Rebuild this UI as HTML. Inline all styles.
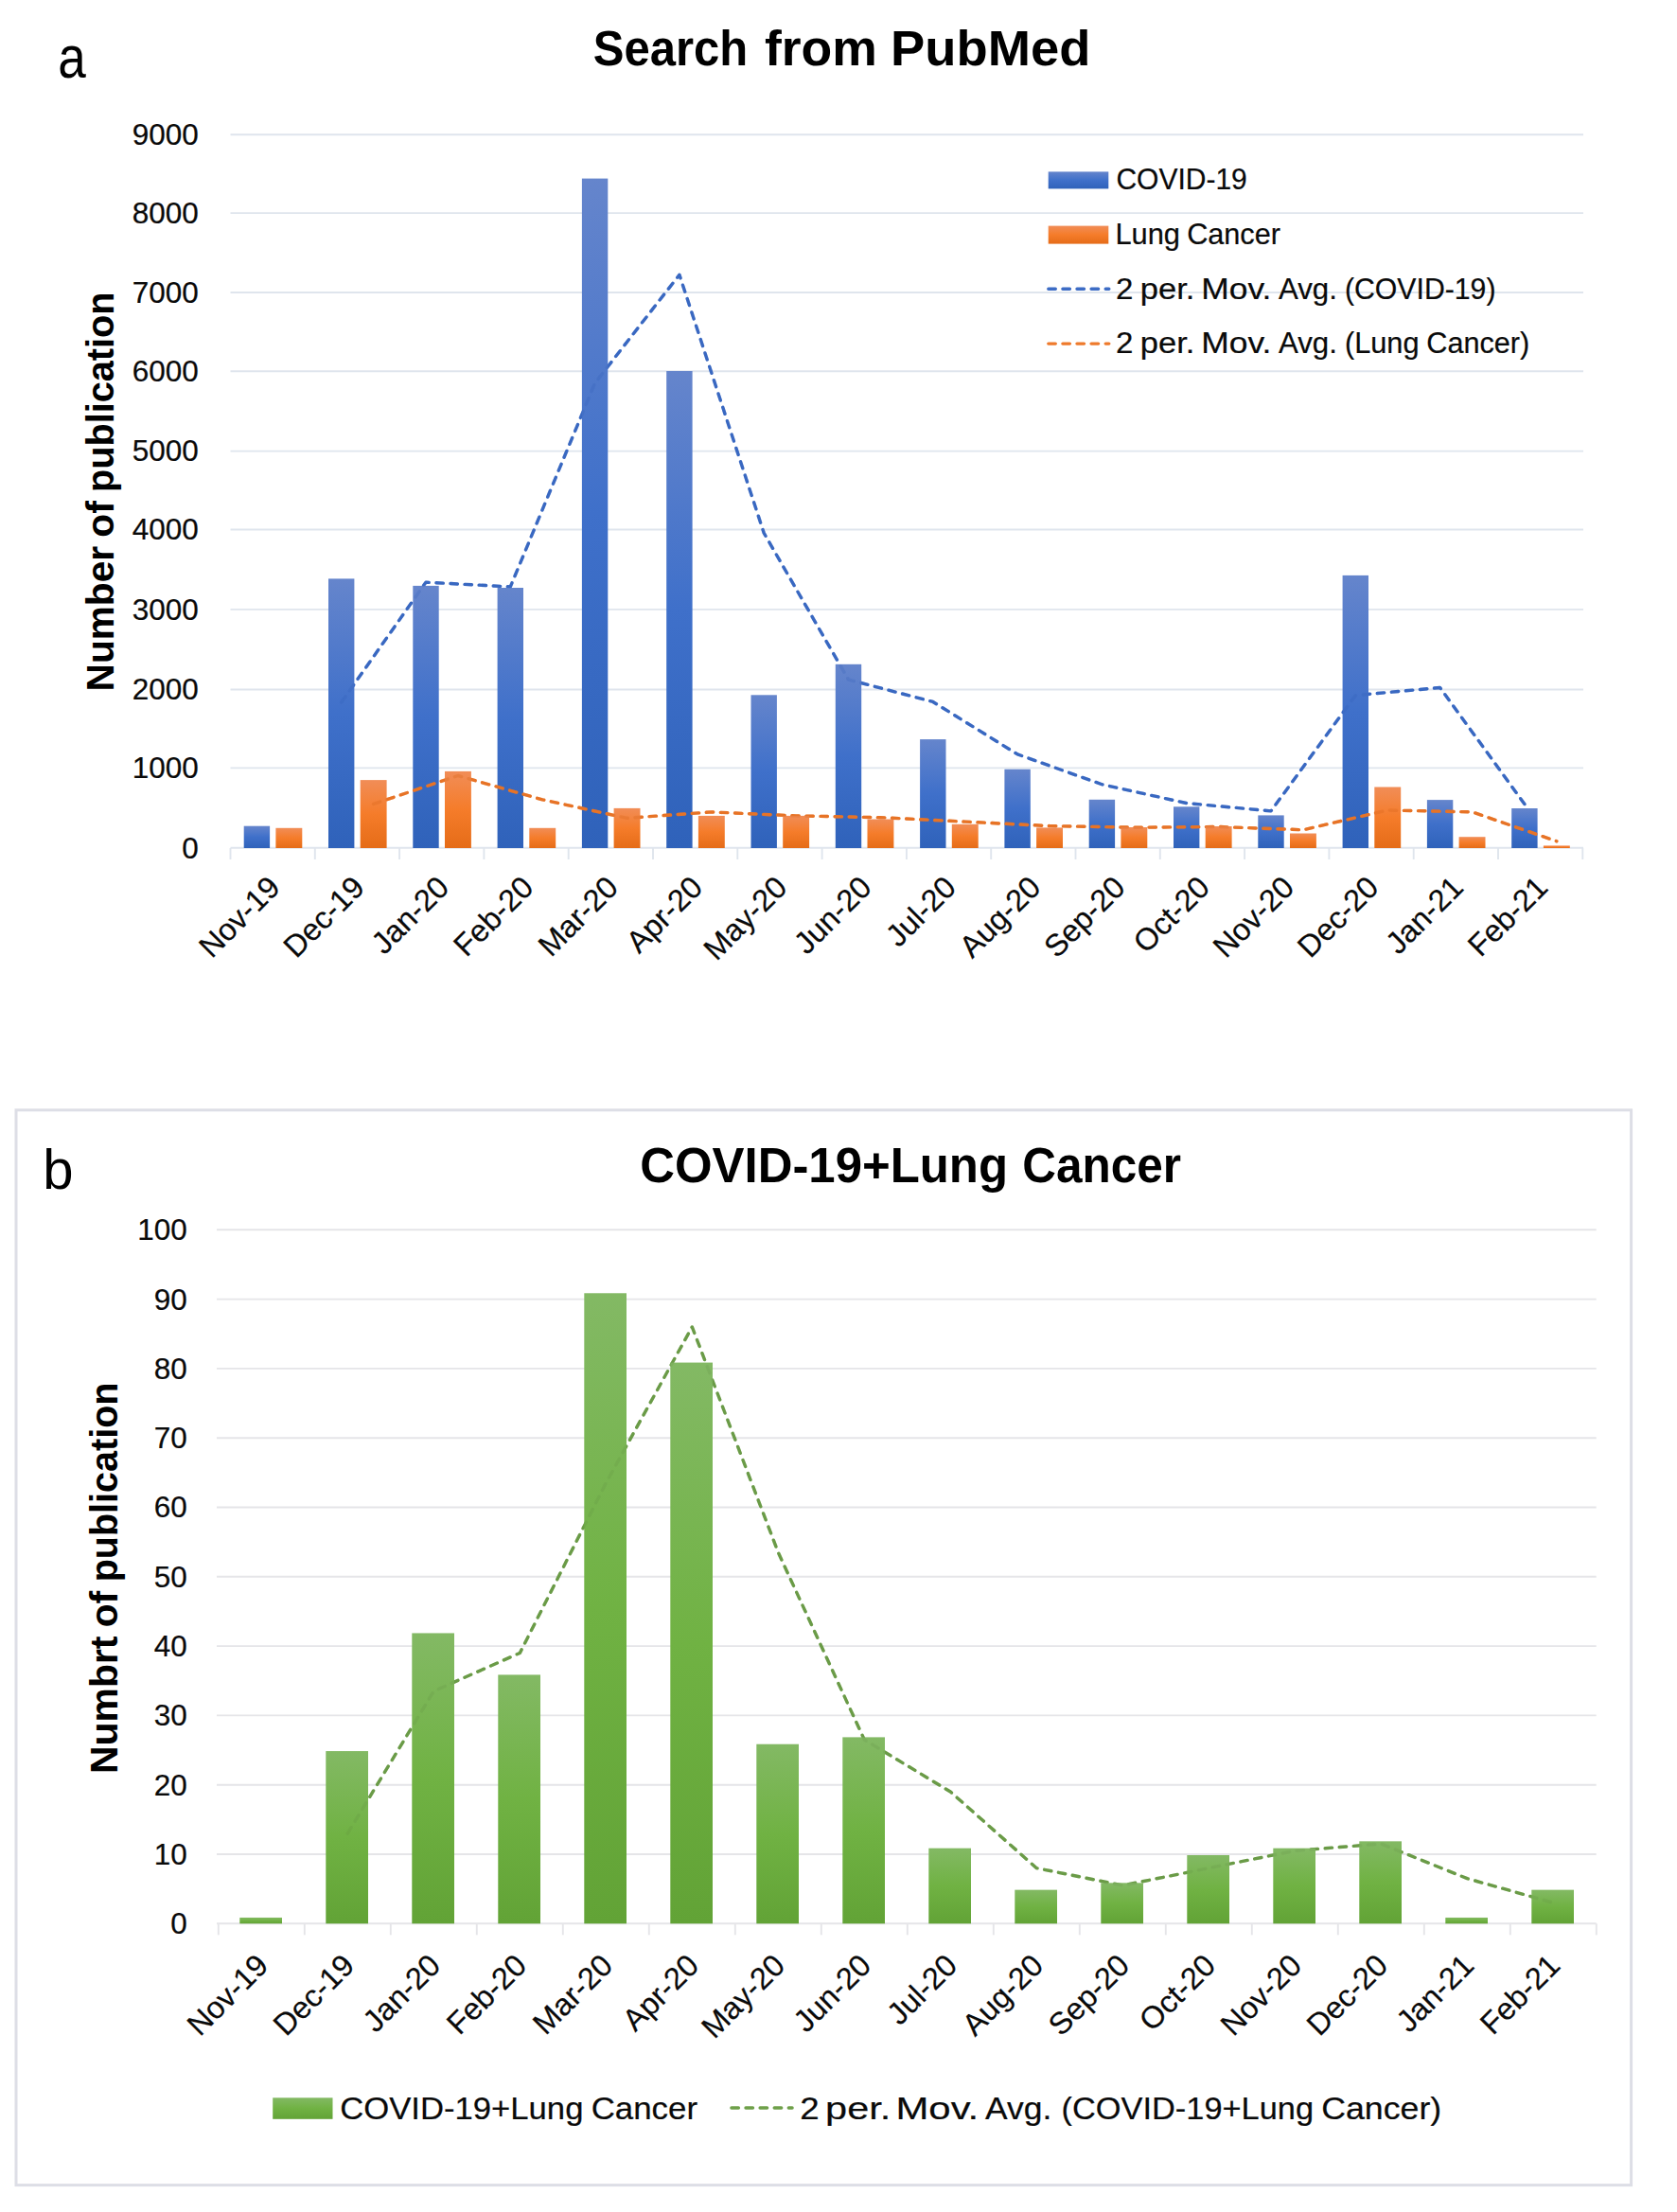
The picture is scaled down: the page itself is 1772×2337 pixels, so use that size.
<!DOCTYPE html>
<html><head><meta charset="utf-8"><title>Search from PubMed</title>
<style>html,body{margin:0;padding:0;background:#fff;}svg{display:block;}text{font-family:"Liberation Sans",sans-serif;fill:#0a0a0a;stroke:#0a0a0a;stroke-width:0.22px;}text.b{fill:#000;stroke:none;}</style>
</head><body>
<svg width="1772" height="2337" viewBox="0 0 1772 2337">
<defs>
<linearGradient id="gb" x1="0" y1="0" x2="0" y2="1"><stop offset="0" stop-color="#6585CC"/><stop offset="0.5" stop-color="#3F70CA"/><stop offset="1" stop-color="#2F62BA"/></linearGradient>
<linearGradient id="go" x1="0" y1="0" x2="0" y2="1"><stop offset="0" stop-color="#F18D57"/><stop offset="0.5" stop-color="#F57C2A"/><stop offset="1" stop-color="#E56C18"/></linearGradient>
<linearGradient id="gg" x1="0" y1="0" x2="0" y2="1"><stop offset="0" stop-color="#83B964"/><stop offset="0.5" stop-color="#70B243"/><stop offset="1" stop-color="#62A336"/></linearGradient>
</defs>
<rect x="0" y="0" width="1772" height="2337" fill="#ffffff"/>
<line x1="243.5" y1="895.80" x2="1673.0" y2="895.80" stroke="#DFE5ED" stroke-width="1.9"/>
<text x="209.8" y="906.60" font-size="31.5" text-anchor="end">0</text>
<line x1="243.5" y1="811.40" x2="1673.0" y2="811.40" stroke="#DFE5ED" stroke-width="1.9"/>
<text x="209.8" y="822.20" font-size="31.5" text-anchor="end">1000</text>
<line x1="243.5" y1="728.50" x2="1673.0" y2="728.50" stroke="#DFE5ED" stroke-width="1.9"/>
<text x="209.8" y="739.30" font-size="31.5" text-anchor="end">2000</text>
<line x1="243.5" y1="643.90" x2="1673.0" y2="643.90" stroke="#DFE5ED" stroke-width="1.9"/>
<text x="209.8" y="654.70" font-size="31.5" text-anchor="end">3000</text>
<line x1="243.5" y1="559.50" x2="1673.0" y2="559.50" stroke="#DFE5ED" stroke-width="1.9"/>
<text x="209.8" y="570.30" font-size="31.5" text-anchor="end">4000</text>
<line x1="243.5" y1="476.60" x2="1673.0" y2="476.60" stroke="#DFE5ED" stroke-width="1.9"/>
<text x="209.8" y="487.40" font-size="31.5" text-anchor="end">5000</text>
<line x1="243.5" y1="392.20" x2="1673.0" y2="392.20" stroke="#DFE5ED" stroke-width="1.9"/>
<text x="209.8" y="403.00" font-size="31.5" text-anchor="end">6000</text>
<line x1="243.5" y1="309.00" x2="1673.0" y2="309.00" stroke="#DFE5ED" stroke-width="1.9"/>
<text x="209.8" y="319.80" font-size="31.5" text-anchor="end">7000</text>
<line x1="243.5" y1="225.10" x2="1673.0" y2="225.10" stroke="#DFE5ED" stroke-width="1.9"/>
<text x="209.8" y="235.90" font-size="31.5" text-anchor="end">8000</text>
<line x1="243.5" y1="142.20" x2="1673.0" y2="142.20" stroke="#DFE5ED" stroke-width="1.9"/>
<text x="209.8" y="153.00" font-size="31.5" text-anchor="end">9000</text>
<line x1="243.50" y1="896.0" x2="243.50" y2="908.0" stroke="#DFE5ED" stroke-width="1.9"/>
<line x1="332.80" y1="896.0" x2="332.80" y2="908.0" stroke="#DFE5ED" stroke-width="1.9"/>
<line x1="422.10" y1="896.0" x2="422.10" y2="908.0" stroke="#DFE5ED" stroke-width="1.9"/>
<line x1="511.40" y1="896.0" x2="511.40" y2="908.0" stroke="#DFE5ED" stroke-width="1.9"/>
<line x1="600.70" y1="896.0" x2="600.70" y2="908.0" stroke="#DFE5ED" stroke-width="1.9"/>
<line x1="690.00" y1="896.0" x2="690.00" y2="908.0" stroke="#DFE5ED" stroke-width="1.9"/>
<line x1="779.30" y1="896.0" x2="779.30" y2="908.0" stroke="#DFE5ED" stroke-width="1.9"/>
<line x1="868.60" y1="896.0" x2="868.60" y2="908.0" stroke="#DFE5ED" stroke-width="1.9"/>
<line x1="957.90" y1="896.0" x2="957.90" y2="908.0" stroke="#DFE5ED" stroke-width="1.9"/>
<line x1="1047.20" y1="896.0" x2="1047.20" y2="908.0" stroke="#DFE5ED" stroke-width="1.9"/>
<line x1="1136.50" y1="896.0" x2="1136.50" y2="908.0" stroke="#DFE5ED" stroke-width="1.9"/>
<line x1="1225.80" y1="896.0" x2="1225.80" y2="908.0" stroke="#DFE5ED" stroke-width="1.9"/>
<line x1="1315.10" y1="896.0" x2="1315.10" y2="908.0" stroke="#DFE5ED" stroke-width="1.9"/>
<line x1="1404.40" y1="896.0" x2="1404.40" y2="908.0" stroke="#DFE5ED" stroke-width="1.9"/>
<line x1="1493.70" y1="896.0" x2="1493.70" y2="908.0" stroke="#DFE5ED" stroke-width="1.9"/>
<line x1="1583.00" y1="896.0" x2="1583.00" y2="908.0" stroke="#DFE5ED" stroke-width="1.9"/>
<line x1="1672.30" y1="896.0" x2="1672.30" y2="908.0" stroke="#DFE5ED" stroke-width="1.9"/>
<polyline points="360.70,742.05 450.00,615.15 539.30,619.95 628.60,404.80 717.90,290.30 807.20,563.15 896.50,718.05 985.80,741.45 1075.10,796.90 1164.40,828.75 1253.70,848.55 1343.00,856.85 1432.30,734.65 1521.60,726.50 1610.90,849.55" fill="none" stroke="#3D6CC5" stroke-width="3.4" stroke-dasharray="7.4 7.7" stroke-linecap="round" stroke-linejoin="round"/>
<rect x="257.70" y="872.70" width="27.4" height="23.30" fill="url(#gb)"/>
<rect x="347.00" y="611.40" width="27.4" height="284.60" fill="url(#gb)"/>
<rect x="436.30" y="618.90" width="27.4" height="277.10" fill="url(#gb)"/>
<rect x="525.60" y="621.00" width="27.4" height="275.00" fill="url(#gb)"/>
<rect x="614.90" y="188.60" width="27.4" height="707.40" fill="url(#gb)"/>
<rect x="704.20" y="392.00" width="27.4" height="504.00" fill="url(#gb)"/>
<rect x="793.50" y="734.30" width="27.4" height="161.70" fill="url(#gb)"/>
<rect x="882.80" y="701.80" width="27.4" height="194.20" fill="url(#gb)"/>
<rect x="972.10" y="781.10" width="27.4" height="114.90" fill="url(#gb)"/>
<rect x="1061.40" y="812.70" width="27.4" height="83.30" fill="url(#gb)"/>
<rect x="1150.70" y="844.80" width="27.4" height="51.20" fill="url(#gb)"/>
<rect x="1240.00" y="852.30" width="27.4" height="43.70" fill="url(#gb)"/>
<rect x="1329.30" y="861.40" width="27.4" height="34.60" fill="url(#gb)"/>
<rect x="1418.60" y="607.90" width="27.4" height="288.10" fill="url(#gb)"/>
<rect x="1507.90" y="845.10" width="27.4" height="50.90" fill="url(#gb)"/>
<rect x="1597.20" y="854.00" width="27.4" height="42.00" fill="url(#gb)"/>
<polyline points="360.70,742.05 450.00,615.15 539.30,619.95 628.60,404.80 717.90,290.30 807.20,563.15 896.50,718.05 985.80,741.45 1075.10,796.90 1164.40,828.75 1253.70,848.55 1343.00,856.85 1432.30,734.65 1521.60,726.50 1610.90,849.55" fill="none" stroke="#2F5DB5" stroke-width="3.4" stroke-dasharray="7.4 7.7" stroke-linecap="round" stroke-linejoin="round" opacity="0.22"/>
<polyline points="394.65,849.45 483.95,819.50 573.25,844.85 662.55,864.35 751.85,857.90 841.15,861.90 930.45,863.70 1019.75,868.15 1109.05,872.60 1198.35,874.20 1287.65,873.50 1376.95,876.75 1466.25,856.00 1555.55,857.85 1644.85,888.80" fill="none" stroke="#EE7A2C" stroke-width="3.4" stroke-dasharray="7.4 7.7" stroke-linecap="round" stroke-linejoin="round"/>
<rect x="291.40" y="874.80" width="27.9" height="21.20" fill="url(#go)"/>
<rect x="380.70" y="824.10" width="27.9" height="71.90" fill="url(#go)"/>
<rect x="470.00" y="814.90" width="27.9" height="81.10" fill="url(#go)"/>
<rect x="559.30" y="874.80" width="27.9" height="21.20" fill="url(#go)"/>
<rect x="648.60" y="853.90" width="27.9" height="42.10" fill="url(#go)"/>
<rect x="737.90" y="861.90" width="27.9" height="34.10" fill="url(#go)"/>
<rect x="827.20" y="861.90" width="27.9" height="34.10" fill="url(#go)"/>
<rect x="916.50" y="865.50" width="27.9" height="30.50" fill="url(#go)"/>
<rect x="1005.80" y="870.80" width="27.9" height="25.20" fill="url(#go)"/>
<rect x="1095.10" y="874.40" width="27.9" height="21.60" fill="url(#go)"/>
<rect x="1184.40" y="874.00" width="27.9" height="22.00" fill="url(#go)"/>
<rect x="1273.70" y="873.00" width="27.9" height="23.00" fill="url(#go)"/>
<rect x="1363.00" y="880.50" width="27.9" height="15.50" fill="url(#go)"/>
<rect x="1452.30" y="831.50" width="27.9" height="64.50" fill="url(#go)"/>
<rect x="1541.60" y="884.20" width="27.9" height="11.80" fill="url(#go)"/>
<rect x="1630.90" y="893.40" width="27.9" height="2.60" fill="url(#go)"/>
<polyline points="394.65,849.45 483.95,819.50 573.25,844.85 662.55,864.35 751.85,857.90 841.15,861.90 930.45,863.70 1019.75,868.15 1109.05,872.60 1198.35,874.20 1287.65,873.50 1376.95,876.75 1466.25,856.00 1555.55,857.85 1644.85,888.80" fill="none" stroke="#D9661C" stroke-width="3.4" stroke-dasharray="7.4 7.7" stroke-linecap="round" stroke-linejoin="round" opacity="0.35"/>
<text transform="translate(297.75,939.50) rotate(-45)" font-size="32.5" text-anchor="end">Nov-19</text>
<text transform="translate(387.05,939.50) rotate(-45)" font-size="32.5" text-anchor="end">Dec-19</text>
<text transform="translate(476.35,939.50) rotate(-45)" font-size="32.5" text-anchor="end">Jan-20</text>
<text transform="translate(565.65,939.50) rotate(-45)" font-size="32.5" text-anchor="end">Feb-20</text>
<text transform="translate(654.95,939.50) rotate(-45)" font-size="32.5" text-anchor="end">Mar-20</text>
<text transform="translate(744.25,939.50) rotate(-45)" font-size="32.5" text-anchor="end">Apr-20</text>
<text transform="translate(833.55,939.50) rotate(-45)" font-size="32.5" text-anchor="end">May-20</text>
<text transform="translate(922.85,939.50) rotate(-45)" font-size="32.5" text-anchor="end">Jun-20</text>
<text transform="translate(1012.15,939.50) rotate(-45)" font-size="32.5" text-anchor="end">Jul-20</text>
<text transform="translate(1101.45,939.50) rotate(-45)" font-size="32.5" text-anchor="end">Aug-20</text>
<text transform="translate(1190.75,939.50) rotate(-45)" font-size="32.5" text-anchor="end">Sep-20</text>
<text transform="translate(1280.05,939.50) rotate(-45)" font-size="32.5" text-anchor="end">Oct-20</text>
<text transform="translate(1369.35,939.50) rotate(-45)" font-size="32.5" text-anchor="end">Nov-20</text>
<text transform="translate(1458.65,939.50) rotate(-45)" font-size="32.5" text-anchor="end">Dec-20</text>
<text transform="translate(1547.95,939.50) rotate(-45)" font-size="32.5" text-anchor="end">Jan-21</text>
<text transform="translate(1637.25,939.50) rotate(-45)" font-size="32.5" text-anchor="end">Feb-21</text>
<rect x="1107.7" y="181.4" width="63.6" height="18" fill="url(#gb)"/>
<rect x="1107.7" y="238.6" width="63.6" height="19" fill="url(#go)"/>
<line x1="1107.8" y1="305.2" x2="1171.8" y2="305.2" stroke="#3D6CC5" stroke-width="3.4" stroke-dasharray="7.5 7.6" stroke-linecap="round"/>
<line x1="1107.8" y1="363.1" x2="1171.8" y2="363.1" stroke="#EE7A2C" stroke-width="3.4" stroke-dasharray="7.5 7.6" stroke-linecap="round"/>
<text x="1179.39" y="199.60" font-size="32" textLength="138.42" lengthAdjust="spacingAndGlyphs">COVID-19</text>
<text x="1178.39" y="257.60" font-size="32" textLength="68.54" lengthAdjust="spacingAndGlyphs">Lung</text>
<text x="1254.16" y="257.60" font-size="32" textLength="98.79" lengthAdjust="spacingAndGlyphs">Cancer</text>
<text x="1179.05" y="316.20" font-size="31" textLength="18.39" lengthAdjust="spacingAndGlyphs">2</text>
<text x="1204.84" y="316.20" font-size="31" textLength="57.58" lengthAdjust="spacingAndGlyphs">per.</text>
<text x="1269.24" y="316.20" font-size="31" textLength="74.06" lengthAdjust="spacingAndGlyphs">Mov.</text>
<text x="1351.00" y="316.20" font-size="31" textLength="61.82" lengthAdjust="spacingAndGlyphs">Avg.</text>
<text x="1420.98" y="316.20" font-size="31" textLength="159.48" lengthAdjust="spacingAndGlyphs">(COVID-19)</text>
<text x="1179.05" y="372.60" font-size="31" textLength="18.39" lengthAdjust="spacingAndGlyphs">2</text>
<text x="1204.84" y="372.60" font-size="31" textLength="57.58" lengthAdjust="spacingAndGlyphs">per.</text>
<text x="1269.24" y="372.60" font-size="31" textLength="74.06" lengthAdjust="spacingAndGlyphs">Mov.</text>
<text x="1351.00" y="372.60" font-size="31" textLength="61.82" lengthAdjust="spacingAndGlyphs">Avg.</text>
<text x="1420.96" y="372.60" font-size="31" textLength="78.56" lengthAdjust="spacingAndGlyphs">(Lung</text>
<text x="1507.37" y="372.60" font-size="31" textLength="108.82" lengthAdjust="spacingAndGlyphs">Cancer)</text>
<text class="b" x="626.83" y="69.00" font-size="51" font-weight="bold" textLength="163.43" lengthAdjust="spacingAndGlyphs">Search</text>
<text class="b" x="807.96" y="69.00" font-size="51" font-weight="bold" textLength="118.90" lengthAdjust="spacingAndGlyphs">from</text>
<text class="b" x="941.10" y="69.00" font-size="51" font-weight="bold" textLength="211.37" lengthAdjust="spacingAndGlyphs">PubMed</text>
<text class="b" transform="translate(120.30,730.44) rotate(-90)" font-size="40" font-weight="bold" textLength="153.51" lengthAdjust="spacingAndGlyphs">Number</text>
<text class="b" transform="translate(120.30,567.67) rotate(-90)" font-size="40" font-weight="bold" textLength="38.44" lengthAdjust="spacingAndGlyphs">of</text>
<text class="b" transform="translate(120.30,520.08) rotate(-90)" font-size="40" font-weight="bold" textLength="211.60" lengthAdjust="spacingAndGlyphs">publication</text>
<text class="b" x="61.34" y="82.40" font-size="62.5" textLength="29.52" lengthAdjust="spacingAndGlyphs">a</text>
<rect x="17" y="1172.8" width="1706.6" height="1135.8" fill="#FFFFFF" stroke="#DDDEE6" stroke-width="3"/>
<line x1="229" y1="2032.30" x2="1686.7" y2="2032.30" stroke="#E5E5E8" stroke-width="1.9"/>
<text x="197.8" y="2043.20" font-size="31.5" text-anchor="end">0</text>
<line x1="229" y1="1959.00" x2="1686.7" y2="1959.00" stroke="#E5E5E8" stroke-width="1.9"/>
<text x="197.8" y="1969.90" font-size="31.5" text-anchor="end">10</text>
<line x1="229" y1="1885.70" x2="1686.7" y2="1885.70" stroke="#E5E5E8" stroke-width="1.9"/>
<text x="197.8" y="1896.60" font-size="31.5" text-anchor="end">20</text>
<line x1="229" y1="1812.40" x2="1686.7" y2="1812.40" stroke="#E5E5E8" stroke-width="1.9"/>
<text x="197.8" y="1823.30" font-size="31.5" text-anchor="end">30</text>
<line x1="229" y1="1739.10" x2="1686.7" y2="1739.10" stroke="#E5E5E8" stroke-width="1.9"/>
<text x="197.8" y="1750.00" font-size="31.5" text-anchor="end">40</text>
<line x1="229" y1="1665.80" x2="1686.7" y2="1665.80" stroke="#E5E5E8" stroke-width="1.9"/>
<text x="197.8" y="1676.70" font-size="31.5" text-anchor="end">50</text>
<line x1="229" y1="1592.50" x2="1686.7" y2="1592.50" stroke="#E5E5E8" stroke-width="1.9"/>
<text x="197.8" y="1603.40" font-size="31.5" text-anchor="end">60</text>
<line x1="229" y1="1519.20" x2="1686.7" y2="1519.20" stroke="#E5E5E8" stroke-width="1.9"/>
<text x="197.8" y="1530.10" font-size="31.5" text-anchor="end">70</text>
<line x1="229" y1="1445.90" x2="1686.7" y2="1445.90" stroke="#E5E5E8" stroke-width="1.9"/>
<text x="197.8" y="1456.80" font-size="31.5" text-anchor="end">80</text>
<line x1="229" y1="1372.60" x2="1686.7" y2="1372.60" stroke="#E5E5E8" stroke-width="1.9"/>
<text x="197.8" y="1383.50" font-size="31.5" text-anchor="end">90</text>
<line x1="229" y1="1299.30" x2="1686.7" y2="1299.30" stroke="#E5E5E8" stroke-width="1.9"/>
<text x="197.8" y="1310.20" font-size="31.5" text-anchor="end">100</text>
<line x1="230.80" y1="2032.3" x2="230.80" y2="2044.3" stroke="#E5E5E8" stroke-width="1.9"/>
<line x1="321.80" y1="2032.3" x2="321.80" y2="2044.3" stroke="#E5E5E8" stroke-width="1.9"/>
<line x1="412.80" y1="2032.3" x2="412.80" y2="2044.3" stroke="#E5E5E8" stroke-width="1.9"/>
<line x1="503.80" y1="2032.3" x2="503.80" y2="2044.3" stroke="#E5E5E8" stroke-width="1.9"/>
<line x1="594.80" y1="2032.3" x2="594.80" y2="2044.3" stroke="#E5E5E8" stroke-width="1.9"/>
<line x1="685.80" y1="2032.3" x2="685.80" y2="2044.3" stroke="#E5E5E8" stroke-width="1.9"/>
<line x1="776.80" y1="2032.3" x2="776.80" y2="2044.3" stroke="#E5E5E8" stroke-width="1.9"/>
<line x1="867.80" y1="2032.3" x2="867.80" y2="2044.3" stroke="#E5E5E8" stroke-width="1.9"/>
<line x1="958.80" y1="2032.3" x2="958.80" y2="2044.3" stroke="#E5E5E8" stroke-width="1.9"/>
<line x1="1049.80" y1="2032.3" x2="1049.80" y2="2044.3" stroke="#E5E5E8" stroke-width="1.9"/>
<line x1="1140.80" y1="2032.3" x2="1140.80" y2="2044.3" stroke="#E5E5E8" stroke-width="1.9"/>
<line x1="1231.80" y1="2032.3" x2="1231.80" y2="2044.3" stroke="#E5E5E8" stroke-width="1.9"/>
<line x1="1322.80" y1="2032.3" x2="1322.80" y2="2044.3" stroke="#E5E5E8" stroke-width="1.9"/>
<line x1="1413.80" y1="2032.3" x2="1413.80" y2="2044.3" stroke="#E5E5E8" stroke-width="1.9"/>
<line x1="1504.80" y1="2032.3" x2="1504.80" y2="2044.3" stroke="#E5E5E8" stroke-width="1.9"/>
<line x1="1595.80" y1="2032.3" x2="1595.80" y2="2044.3" stroke="#E5E5E8" stroke-width="1.9"/>
<line x1="1686.80" y1="2032.3" x2="1686.80" y2="2044.3" stroke="#E5E5E8" stroke-width="1.9"/>
<polyline points="367.30,1937.01 458.30,1786.74 549.30,1746.43 640.30,1566.84 731.30,1401.92 822.30,1640.14 913.30,1838.06 1004.30,1893.03 1095.30,1973.66 1186.30,1991.98 1277.30,1973.66 1368.30,1955.34 1459.30,1948.00 1550.30,1984.65 1641.30,2010.31" fill="none" stroke="#6EA049" stroke-width="3.4" stroke-dasharray="7.4 7.7" stroke-linecap="round" stroke-linejoin="round"/>
<rect x="253.30" y="2025.97" width="44.7" height="6.33" fill="url(#gg)"/>
<rect x="344.30" y="1850.05" width="44.7" height="182.25" fill="url(#gg)"/>
<rect x="435.30" y="1725.44" width="44.7" height="306.86" fill="url(#gg)"/>
<rect x="526.30" y="1769.42" width="44.7" height="262.88" fill="url(#gg)"/>
<rect x="617.30" y="1366.27" width="44.7" height="666.03" fill="url(#gg)"/>
<rect x="708.30" y="1439.57" width="44.7" height="592.73" fill="url(#gg)"/>
<rect x="799.30" y="1842.72" width="44.7" height="189.58" fill="url(#gg)"/>
<rect x="890.30" y="1835.39" width="44.7" height="196.91" fill="url(#gg)"/>
<rect x="981.30" y="1952.67" width="44.7" height="79.63" fill="url(#gg)"/>
<rect x="1072.30" y="1996.65" width="44.7" height="35.65" fill="url(#gg)"/>
<rect x="1163.30" y="1989.32" width="44.7" height="42.98" fill="url(#gg)"/>
<rect x="1254.30" y="1960.00" width="44.7" height="72.30" fill="url(#gg)"/>
<rect x="1345.30" y="1952.67" width="44.7" height="79.63" fill="url(#gg)"/>
<rect x="1436.30" y="1945.34" width="44.7" height="86.96" fill="url(#gg)"/>
<rect x="1527.30" y="2025.97" width="44.7" height="6.33" fill="url(#gg)"/>
<rect x="1618.30" y="1996.65" width="44.7" height="35.65" fill="url(#gg)"/>
<polyline points="367.30,1937.01 458.30,1786.74 549.30,1746.43 640.30,1566.84 731.30,1401.92 822.30,1640.14 913.30,1838.06 1004.30,1893.03 1095.30,1973.66 1186.30,1991.98 1277.30,1973.66 1368.30,1955.34 1459.30,1948.00 1550.30,1984.65 1641.30,2010.31" fill="none" stroke="#55803C" stroke-width="3.4" stroke-dasharray="7.4 7.7" stroke-linecap="round" stroke-linejoin="round" opacity="0.15"/>
<text transform="translate(285.30,2078.50) rotate(-45)" font-size="32.5" text-anchor="end">Nov-19</text>
<text transform="translate(376.30,2078.50) rotate(-45)" font-size="32.5" text-anchor="end">Dec-19</text>
<text transform="translate(467.30,2078.50) rotate(-45)" font-size="32.5" text-anchor="end">Jan-20</text>
<text transform="translate(558.30,2078.50) rotate(-45)" font-size="32.5" text-anchor="end">Feb-20</text>
<text transform="translate(649.30,2078.50) rotate(-45)" font-size="32.5" text-anchor="end">Mar-20</text>
<text transform="translate(740.30,2078.50) rotate(-45)" font-size="32.5" text-anchor="end">Apr-20</text>
<text transform="translate(831.30,2078.50) rotate(-45)" font-size="32.5" text-anchor="end">May-20</text>
<text transform="translate(922.30,2078.50) rotate(-45)" font-size="32.5" text-anchor="end">Jun-20</text>
<text transform="translate(1013.30,2078.50) rotate(-45)" font-size="32.5" text-anchor="end">Jul-20</text>
<text transform="translate(1104.30,2078.50) rotate(-45)" font-size="32.5" text-anchor="end">Aug-20</text>
<text transform="translate(1195.30,2078.50) rotate(-45)" font-size="32.5" text-anchor="end">Sep-20</text>
<text transform="translate(1286.30,2078.50) rotate(-45)" font-size="32.5" text-anchor="end">Oct-20</text>
<text transform="translate(1377.30,2078.50) rotate(-45)" font-size="32.5" text-anchor="end">Nov-20</text>
<text transform="translate(1468.30,2078.50) rotate(-45)" font-size="32.5" text-anchor="end">Dec-20</text>
<text transform="translate(1559.30,2078.50) rotate(-45)" font-size="32.5" text-anchor="end">Jan-21</text>
<text transform="translate(1650.30,2078.50) rotate(-45)" font-size="32.5" text-anchor="end">Feb-21</text>
<rect x="288.2" y="2216.3" width="63.3" height="22.5" fill="url(#gg)"/>
<text x="359.17" y="2238.80" font-size="34" textLength="257.27" lengthAdjust="spacingAndGlyphs">COVID-19+Lung</text>
<text x="624.67" y="2238.80" font-size="34" textLength="112.40" lengthAdjust="spacingAndGlyphs">Cancer</text>
<line x1="772.9" y1="2227" x2="837.1" y2="2227" stroke="#6EA049" stroke-width="3.4" stroke-dasharray="7.5 7.6" stroke-linecap="round"/>
<text x="845.28" y="2238.80" font-size="34" textLength="20.41" lengthAdjust="spacingAndGlyphs">2</text>
<text x="872.11" y="2238.80" font-size="34" textLength="69.13" lengthAdjust="spacingAndGlyphs">per.</text>
<text x="946.53" y="2238.80" font-size="34" textLength="87.55" lengthAdjust="spacingAndGlyphs">Mov.</text>
<text x="1041.10" y="2238.80" font-size="34" textLength="70.20" lengthAdjust="spacingAndGlyphs">Avg.</text>
<text x="1121.59" y="2238.80" font-size="34" textLength="266.44" lengthAdjust="spacingAndGlyphs">(COVID-19+Lung</text>
<text x="1396.23" y="2238.80" font-size="34" textLength="127.02" lengthAdjust="spacingAndGlyphs">Cancer)</text>
<text class="b" x="676.21" y="1249.20" font-size="51" font-weight="bold" textLength="388.85" lengthAdjust="spacingAndGlyphs">COVID-19+Lung</text>
<text class="b" x="1080.35" y="1249.20" font-size="51" font-weight="bold" textLength="167.75" lengthAdjust="spacingAndGlyphs">Cancer</text>
<text class="b" transform="translate(123.90,1874.06) rotate(-90)" font-size="40" font-weight="bold" textLength="145.56" lengthAdjust="spacingAndGlyphs">Numbrt</text>
<text class="b" transform="translate(123.90,1719.37) rotate(-90)" font-size="40" font-weight="bold" textLength="38.44" lengthAdjust="spacingAndGlyphs">of</text>
<text class="b" transform="translate(123.90,1671.27) rotate(-90)" font-size="40" font-weight="bold" textLength="210.68" lengthAdjust="spacingAndGlyphs">publication</text>
<text class="b" x="45.27" y="1255.50" font-size="58.5" textLength="32.28" lengthAdjust="spacingAndGlyphs">b</text>
</svg></body></html>
